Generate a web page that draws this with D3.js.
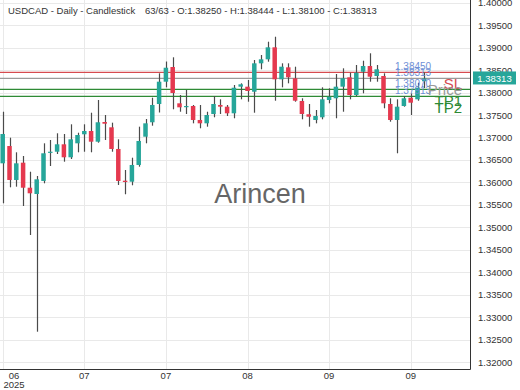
<!DOCTYPE html>
<html><head><meta charset="utf-8">
<script src="https://cdn.jsdelivr.net/npm/d3@7"></script>
<style>body{margin:0;background:#fff;}svg{display:block;font-family:"Liberation Sans",Arial,sans-serif;}</style>
</head><body><svg id="c" width="520" height="390"></svg>
<script>
const opens  = [1.36425,1.36810,1.36054,1.36439,1.35882,1.35742,1.36032,1.36661,1.36683,1.36848,1.36559,1.36870,1.37071,1.37144,1.36906,1.37344,1.37226,1.36744,1.36038,1.36016,1.36388,1.37017,1.37338,1.37745,1.38241,1.38568,1.37760,1.37685,1.37700,1.37389,1.37315,1.37522,1.37723,1.37685,1.37538,1.38130,1.38130,1.38018,1.38650,1.38739,1.39006,1.38294,1.38561,1.38317,1.37812,1.37516,1.37389,1.37449,1.37834,1.37872,1.38130,1.38339,1.37945,1.38463,1.38590,1.38368,1.38368,1.37745,1.37389,1.37700,1.37885,1.37849,1.38250];
const highs  = [1.37573,1.36995,1.36670,1.36588,1.36238,1.36143,1.36870,1.36944,1.37093,1.37077,1.37293,1.37106,1.37293,1.37551,1.37834,1.37500,1.37329,1.36959,1.36276,1.36550,1.37240,1.37411,1.37885,1.38428,1.38690,1.38784,1.37945,1.38056,1.37723,1.37723,1.37573,1.37923,1.37849,1.37723,1.38168,1.38205,1.38279,1.38724,1.38835,1.39131,1.39242,1.38650,1.38650,1.38575,1.37872,1.37745,1.37611,1.38116,1.38094,1.38412,1.38539,1.38441,1.38613,1.38708,1.38873,1.38613,1.38428,1.37872,1.37849,1.37923,1.37983,1.38219,1.38444];
const lows   = [1.35535,1.35891,1.35905,1.35475,1.34830,1.32678,1.35980,1.36365,1.36632,1.36461,1.36521,1.36670,1.36683,1.36670,1.36884,1.36944,1.36683,1.35943,1.35736,1.35936,1.36350,1.36870,1.37262,1.37556,1.38116,1.37627,1.37573,1.37522,1.37315,1.37204,1.37240,1.37449,1.37522,1.37478,1.37427,1.37849,1.37796,1.37551,1.38517,1.38686,1.37818,1.38116,1.38205,1.37796,1.37404,1.37240,1.37315,1.37404,1.37760,1.37427,1.37573,1.37849,1.37923,1.37983,1.38241,1.38241,1.37649,1.37351,1.36648,1.37685,1.37500,1.37818,1.38100];
const closes = [1.37077,1.36054,1.36425,1.35882,1.35758,1.36069,1.36648,1.36683,1.36848,1.36559,1.36959,1.37055,1.37144,1.36906,1.37338,1.37306,1.36744,1.36032,1.36009,1.36388,1.36922,1.37315,1.37723,1.38241,1.38552,1.37990,1.37671,1.37700,1.37389,1.37315,1.37500,1.37745,1.37685,1.37538,1.38107,1.38183,1.38034,1.38650,1.38739,1.39006,1.38294,1.38575,1.38339,1.37818,1.37522,1.37462,1.37478,1.37849,1.37907,1.38130,1.38317,1.37945,1.38441,1.38590,1.38352,1.38517,1.37760,1.37389,1.37685,1.37872,1.37774,1.38107,1.38313];
const dateTickIndex = [0,12,24,36,48,60];
const dateTickLabels = [["06","2025"],["07"],["07"],["08"],["09"],["09"]];
const priceTicks = [1.32,1.325,1.33,1.335,1.34,1.345,1.35,1.355,1.36,1.365,1.37,1.375,1.38,1.385,1.39,1.395,1.40];
const levelValues = [1.38450,1.38313,1.38070,1.37913];
const levelNames = ["SL","Price","TP1","TP2"];
const levelColors = ["#d64b4f","#9a9a9a","#2e8a35","#2e8a35"];
const headerLeft = "USDCAD - Daily - Candlestick";
const headerRight = "63/63 - O:1.38250 - H:1.38444 - L:1.38100 - C:1.38313";
const watermark = "Arincen";

const svg = d3.select("#c");
const plotW = 470, plotH = 369;
const x = d3.scaleBand().domain(d3.range(opens.length)).range([-0.7, 427.7]).paddingInner(0.34).paddingOuter(0.17);
const y = d3.scaleLinear().domain([1.31848, 1.40059]).range([plotH, 0]);
const cx = i => x(i) + x.bandwidth()/2;
const up = "#26a69a", down = "#e5394f";

const plot = svg.append("g");
// grid
plot.selectAll(".hg").data(priceTicks).enter().append("line")
  .attr("x1",0).attr("x2",plotW).attr("y1",d=>Math.round(y(d))+0.5).attr("y2",d=>Math.round(y(d))+0.5)
  .attr("stroke","#e9e9e9").attr("stroke-width",1);
plot.selectAll(".vg").data(dateTickIndex).enter().append("line")
  .attr("x1",d=>Math.round(cx(d))+0.5).attr("x2",d=>Math.round(cx(d))+0.5).attr("y1",0).attr("y2",plotH)
  .attr("stroke","#e9e9e9").attr("stroke-width",1);

// watermark
svg.append("text").attr("x",260).attr("y",203).attr("text-anchor","middle")
  .attr("font-size",27).attr("fill","#666").text(watermark);

// level lines
plot.selectAll(".lv").data(levelValues).enter().append("line")
  .attr("x1",0).attr("x2",plotW).attr("y1",d=>y(d)).attr("y2",d=>y(d))
  .attr("stroke",(d,i)=>levelColors[i]).attr("stroke-width",1.3);

// candles
const data = opens.map((o,i)=>({i,o,h:highs[i],l:lows[i],c:closes[i]}));
const g = plot.selectAll(".cd").data(data).enter().append("g");
g.append("line").attr("x1",d=>Math.round(cx(d.i))+0.5).attr("x2",d=>Math.round(cx(d.i))+0.5)
  .attr("y1",d=>y(d.h)).attr("y2",d=>y(d.l)).attr("stroke","#4a4a4a").attr("stroke-width",1.2);
g.append("rect").attr("x",d=>x(d.i)).attr("width",x.bandwidth())
  .attr("y",d=>y(Math.max(d.o,d.c))).attr("height",d=>Math.max(1.2,Math.abs(y(d.o)-y(d.c))))
  .attr("fill",d=>d.c>=d.o?up:down);

// level value labels
plot.selectAll(".lvt").data(levelValues).enter().append("text")
  .attr("x",395).attr("y",d=>y(d)-2).attr("font-size",10).attr("fill","#6f8fd6")
  .text(d=>d.toFixed(5));
// level name labels
plot.selectAll(".lvn").data(levelValues).enter().append("text")
  .attr("x",462).attr("y",d=>y(d)+17).attr("text-anchor","end").attr("font-size",15)
  .attr("fill",(d,i)=>levelColors[i]).text((d,i)=>levelNames[i]);

// axes borders
svg.append("line").attr("x1",plotW+0.5).attr("x2",plotW+0.5).attr("y1",0).attr("y2",plotH+0.5).attr("stroke","#333");
svg.append("line").attr("x1",0).attr("x2",plotW+0.5).attr("y1",plotH+0.5).attr("y2",plotH+0.5).attr("stroke","#333");

// right axis
const ra = d3.axisRight(y).tickValues(priceTicks).tickSize(0).tickPadding(8).tickFormat(d3.format(".5f"));
const rg = svg.append("g").attr("transform",`translate(${plotW},0)`).call(ra);
rg.select(".domain").remove();
rg.selectAll("text").attr("font-size",9.5).attr("fill","#333").attr("font-family","Liberation Sans, Arial, sans-serif");

// last price box
const lp = closes[closes.length-1];
svg.append("rect").attr("x",473).attr("y",y(lp)-7).attr("width",43).attr("height",13).attr("fill",up);
svg.append("text").attr("x",494.5).attr("y",y(lp)+3.5).attr("text-anchor","middle").attr("font-size",9.5).attr("fill","#fff").text(lp.toFixed(5));

// bottom axis labels
const bl = svg.selectAll(".bl").data(dateTickIndex).enter().append("text")
  .attr("text-anchor","middle").attr("font-size",9.5).attr("fill","#333");
bl.each(function(d,k){
  const t = d3.select(this);
  const px = Math.max(cx(d), 14);
  dateTickLabels[k].forEach((s,j)=>{
    t.append("tspan").attr("x",px).attr("y",379+j*9).text(s);
  });
});

// header
svg.append("text").attr("x",8).attr("y",14).attr("font-size",9.5).attr("fill","#333").text(headerLeft);
svg.append("text").attr("x",145).attr("y",14).attr("font-size",9.5).attr("fill","#333").text(headerRight);
</script></body></html>
